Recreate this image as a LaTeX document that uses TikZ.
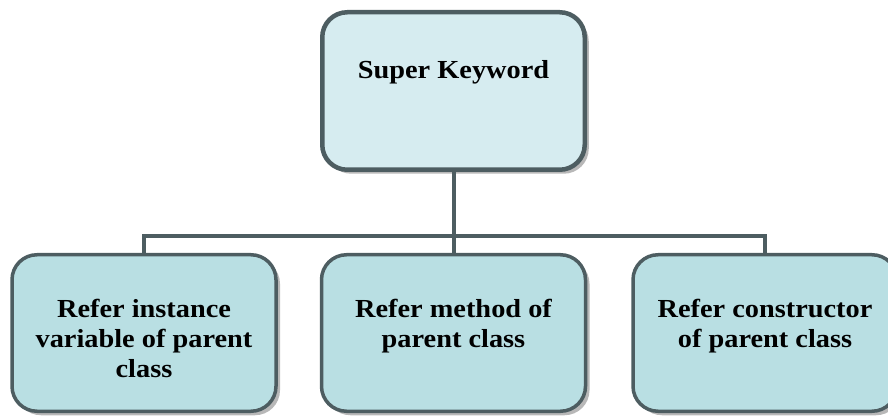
\documentclass[tikz,border=0pt]{standalone}
\usepackage{fontspec}
\newfontfamily\boxfont{Liberation Serif}[FakeStretch=1.09]
\usetikzlibrary{shadows}

\definecolor{edgegray}{HTML}{4D5D61}
\definecolor{topfill}{HTML}{D6ECF0}
\definecolor{subfill}{HTML}{B9DFE3}

\tikzset{
    kwbox/.style={
        draw=edgegray,
        line width=4.5pt,
        rounded corners=25pt,
        fill=topfill,
        drop shadow={shadow xshift=4pt,shadow yshift=-4pt,fill=black!28,opacity=1},
        minimum width=262.5pt,
        minimum height=157.5pt
    },
    usebox/.style={
        draw=edgegray,
        line width=3.5pt,
        rounded corners=25pt,
        fill=subfill,
        drop shadow={shadow xshift=4pt,shadow yshift=-4pt,fill=black!28,opacity=1},
        minimum width=264pt,
        minimum height=156.5pt
    },
    lbl/.style={
        align=center,
        inner sep=0pt,
        anchor=north,
        font=\boxfont\bfseries\fontsize{26}{30}\selectfont
    },
    wire/.style={
        draw=edgegray,
        line width=4pt
    }
}

\begin{document}
\begin{tikzpicture}[x=1pt,y=1pt]
\useasboundingbox (0,0) rectangle (888,415);
\clip (0,0) rectangle (888,415);
		\path
			node[kwbox] at (453.5,324) (kw) {}
			;
		\path 	(144,82)
			node[usebox](inst){}
			++(309.5,0) node[usebox](meth){}
			++(311.5,0) node[usebox](ctor){};
		\coordinate (bus) at (453.5,179);

		\path[wire]
			(kw.south) -- (bus)
			(bus) -| (inst.north)
			(bus) -| (ctor.north)
			(bus) -- (meth.north);

		% box texts, set from the top of each box
		\path
			node[lbl] at (453.5,355) (kwtext) {Super Keyword}
			node[lbl] at (144,116) (insttext) {Refer instance\\variable of parent\\class}
			node[lbl] at (453.5,116) (methtext) {Refer method of\\parent class}
			node[lbl] at (765,116) (ctortext) {Refer constructor\\of parent class}
			;
\end{tikzpicture}
\end{document}
